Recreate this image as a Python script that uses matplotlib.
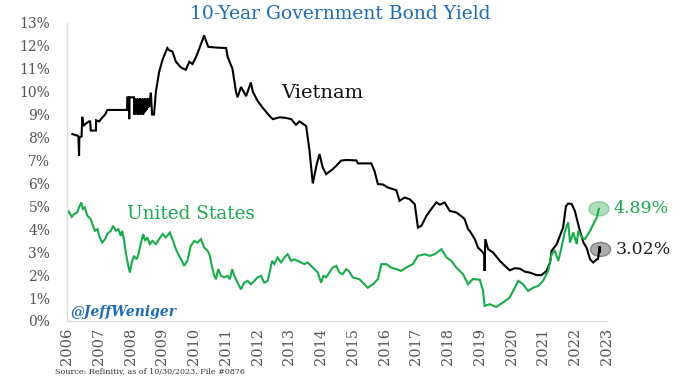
import matplotlib
matplotlib.use("Agg")
import matplotlib.pyplot as plt
from matplotlib.patches import Ellipse

# ---- data (axis-year units, as drawn on the chart) ----
vn_x = [2006.17, 2006.32, 2006.36, 2006.38, 2006.39, 2006.46, 2006.48, 2006.52, 2006.59, 2006.69,
        2006.73, 2006.75, 2006.91, 2006.92, 2007.01, 2007.10, 2007.20, 2007.27, 2007.89, 2007.90,
        2007.95, 2007.96, 2007.97, 2008.11, 2008.12, 2008.14, 2008.16, 2008.18, 2008.20, 2008.22,
        2008.24, 2008.26, 2008.28, 2008.30, 2008.32, 2008.34, 2008.36, 2008.38, 2008.40, 2008.42,
        2008.44, 2008.46, 2008.48, 2008.50, 2008.52, 2008.54, 2008.56, 2008.58, 2008.60, 2008.62,
        2008.64, 2008.68, 2008.74, 2008.80, 2008.90, 2009.01, 2009.16, 2009.22, 2009.32,
        2009.43, 2009.59, 2009.74, 2009.85, 2009.95, 2010.06, 2010.16, 2010.32, 2010.38, 2010.45,
        2010.70, 2011.01, 2011.06, 2011.21, 2011.32, 2011.37, 2011.48, 2011.64, 2011.79, 2011.85,
        2012.00, 2012.16, 2012.37, 2012.48, 2012.70, 2012.90, 2013.06, 2013.21, 2013.32, 2013.53,
        2013.58, 2013.63, 2013.74, 2013.85, 2013.95, 2014.05, 2014.16, 2014.37, 2014.48, 2014.63,
        2014.79, 2015.11, 2015.16, 2015.58, 2015.68, 2015.79, 2015.95, 2016.10, 2016.37, 2016.47,
        2016.63, 2016.79, 2016.95, 2017.05, 2017.16, 2017.32, 2017.47, 2017.63, 2017.74, 2017.89,
        2018.05, 2018.26, 2018.47, 2018.52, 2018.63, 2018.68, 2018.84, 2018.94, 2019.05, 2019.14,
        2019.15, 2019.17, 2019.26, 2019.42, 2019.63, 2019.79, 2019.94, 2020.10, 2020.26, 2020.42,
        2020.57, 2020.79, 2020.94, 2021.10, 2021.21, 2021.26, 2021.42, 2021.52, 2021.62, 2021.71,
        2021.78, 2021.89, 2021.99, 2022.07, 2022.15, 2022.26, 2022.36, 2022.47, 2022.57, 2022.68,
        2022.72, 2022.77, 2022.78]
vn_y = [8.15, 8.08, 8.05, 7.20, 8.00, 8.05, 8.90, 8.50, 8.60, 8.70,
        8.70, 8.30, 8.30, 8.75, 8.70, 8.85, 9.00, 9.20, 9.20, 9.75,
        9.75, 8.80, 9.75, 9.75, 9.00, 9.70, 9.00, 9.65, 9.05, 9.70,
        9.00, 9.60, 9.05, 9.70, 9.00, 9.65, 9.10, 9.70, 9.00, 9.65,
        9.10, 9.70, 9.15, 9.65, 9.20, 9.70, 9.30, 9.70, 9.35, 9.70,
        9.95, 9.00, 9.00, 10.00, 10.85, 11.40, 11.90, 11.80, 11.75,
        11.30, 11.05, 10.95, 11.30, 11.20, 11.50, 11.85, 12.45, 12.20, 11.95,
        11.92, 11.90, 11.50, 11.00, 10.00, 9.75, 10.20, 9.80, 10.40, 10.00,
        9.60, 9.30, 8.95, 8.80, 8.88, 8.85, 8.80, 8.55, 8.70, 8.50,
        8.00, 7.50, 6.00, 6.75, 7.28, 6.70, 6.40, 6.62, 6.77, 6.99,
        7.02, 7.00, 6.87, 6.87, 6.55, 5.97, 5.95, 5.82, 5.70, 5.24,
        5.38, 5.31, 5.09, 4.07, 4.15, 4.59, 4.88, 5.17, 5.07, 5.17,
        4.80, 4.73, 4.51, 4.44, 4.00, 3.93, 3.57, 3.20, 3.06, 2.90,
        2.18, 3.57, 3.13, 2.98, 2.62, 2.40, 2.21, 2.30, 2.28, 2.15,
        2.11, 2.00, 2.00, 2.18, 2.55, 3.06, 3.35, 3.71, 4.07, 5.00,
        5.12, 5.10, 4.80, 4.37, 3.93, 3.42, 3.20, 2.69, 2.55, 2.69,
        2.70, 3.25, 3.02]

us_x = [2006.00, 2006.06, 2006.15, 2006.22, 2006.32, 2006.38, 2006.45, 2006.50, 2006.56, 2006.64,
        2006.75, 2006.80, 2006.88, 2006.96, 2007.03, 2007.11, 2007.20, 2007.27, 2007.38, 2007.45,
        2007.54, 2007.62, 2007.69, 2007.74, 2007.80, 2007.85, 2007.92, 2007.98, 2008.04, 2008.11,
        2008.19, 2008.25, 2008.32, 2008.40, 2008.46, 2008.53, 2008.61, 2008.69, 2008.80, 2008.90,
        2009.01, 2009.11, 2009.24, 2009.32, 2009.43, 2009.53, 2009.62, 2009.69, 2009.79, 2009.90,
        2010.01, 2010.11, 2010.22, 2010.32, 2010.43, 2010.50, 2010.56, 2010.64, 2010.69, 2010.76,
        2010.85, 2010.95, 2011.06, 2011.13, 2011.20, 2011.27, 2011.37, 2011.48, 2011.58, 2011.69,
        2011.79, 2011.90, 2012.00, 2012.11, 2012.21, 2012.32, 2012.39, 2012.46, 2012.53, 2012.63,
        2012.74, 2012.85, 2012.95, 2013.06, 2013.16, 2013.26, 2013.37, 2013.48, 2013.58, 2013.69,
        2013.79, 2013.90, 2014.00, 2014.08, 2014.16, 2014.26, 2014.37, 2014.48, 2014.58, 2014.68,
        2014.79, 2014.87, 2015.00, 2015.21, 2015.47, 2015.63,
        2015.79, 2015.90, 2016.05, 2016.21, 2016.37, 2016.52, 2016.68, 2016.89, 2017.05, 2017.26,
        2017.42, 2017.58, 2017.79, 2017.95, 2018.10, 2018.26, 2018.47, 2018.63, 2018.78, 2019.00,
        2019.10, 2019.15, 2019.31, 2019.52, 2019.72, 2019.94, 2020.10, 2020.21, 2020.36, 2020.52,
        2020.68, 2020.84, 2020.99, 2021.15, 2021.26, 2021.36, 2021.47, 2021.57, 2021.68, 2021.78,
        2021.84, 2021.94, 2022.05, 2022.10, 2022.21, 2022.31, 2022.47, 2022.57, 2022.68, 2022.75]
us_y = [4.66, 4.77, 4.54, 4.66, 4.73, 4.95, 5.17, 4.88, 4.95, 4.59,
        4.44, 4.22, 3.93, 4.00, 3.64, 3.42, 3.57, 3.79, 3.93, 4.15,
        3.93, 4.00, 3.71, 3.93, 3.49, 2.98, 2.48, 2.11, 2.55, 2.84,
        2.69, 2.91, 3.35, 3.79, 3.49, 3.64, 3.35, 3.49, 3.35, 3.57,
        3.79, 3.64, 3.86, 3.57, 3.13, 2.84, 2.62, 2.40, 2.62, 3.28,
        3.49, 3.42, 3.57, 3.20, 3.06, 2.84, 2.40, 1.97, 1.82, 2.26,
        1.97, 1.90, 1.97, 1.82, 2.26, 1.97, 1.67, 1.38, 1.67, 1.75,
        1.60, 1.75, 1.90, 1.97, 1.67, 1.75, 2.18, 2.62, 2.48, 2.77,
        2.55, 2.77, 2.91, 2.62, 2.69, 2.62, 2.55, 2.48, 2.55, 2.40,
        2.26, 2.11, 1.67, 1.97, 1.90, 2.11, 2.33, 2.40, 2.11, 2.04,
        2.26, 2.18, 1.90, 1.82, 1.45, 1.60,
        1.82, 2.48, 2.48, 2.33, 2.26, 2.18, 2.33, 2.48, 2.84, 2.91,
        2.84, 2.91, 3.13, 2.77, 2.62, 2.33, 2.04, 1.60, 1.83, 1.80,
        1.31, 0.66, 0.73, 0.61, 0.80, 1.02, 1.45, 1.75, 1.60, 1.31,
        1.45, 1.53, 1.75, 2.18, 2.91, 3.06, 2.62, 3.20, 3.93, 4.30,
        3.42, 3.86, 3.35, 3.93, 3.64, 3.57, 3.93, 4.22, 4.51, 4.89]

x_ticks = list(range(2006, 2024))
y_ticks = list(range(0, 14))
us_last_label = "4.89%"
vn_last_label = "3.02%"

GREEN = "#1aab4b"
BLUE = "#1f6cb5"
SERIF = ["DejaVu Serif"]

fig = plt.figure(figsize=(6.8, 3.83), dpi=100)
ax = fig.add_axes([0.0985, 0.1619, 0.794, 0.7786])

ax.plot(vn_x, vn_y, color="black", lw=1.5, solid_joinstyle="miter")
ax.plot(us_x, us_y, color=GREEN, lw=1.5, solid_joinstyle="miter")

ax.set_xlim(2006, 2023)
ax.set_ylim(0, 13)
ax.set_xticks(x_ticks)
ax.set_xticklabels([str(t) for t in x_ticks], rotation=90, fontsize=10.5,
                   family=SERIF, color="#555555")
ax.set_yticks(y_ticks)
ax.set_yticklabels([f"{t}%" for t in y_ticks], fontsize=10, family=SERIF, color="#555555")
ax.tick_params(axis="both", length=0)
ax.tick_params(axis="y", pad=12)
ax.tick_params(axis="x", pad=5)
for s in ["top", "right"]:
    ax.spines[s].set_visible(False)
for s in ["left", "bottom"]:
    ax.spines[s].set_color("#dddddd")
    ax.spines[s].set_linewidth(1)

# end-point markers
ex, ey = us_x[-1], us_y[-1]
ax.add_patch(Ellipse((ex, ey), 0.63, 0.61, facecolor="#a8dcb4", edgecolor="#86c998",
                     lw=1, alpha=0.9, clip_on=False, zorder=1))
vx, vy = vn_x[-1], vn_y[-1]
ax.add_patch(Ellipse((vx + 0.02, vy + 0.1), 0.63, 0.61, facecolor="#a3a3a3", edgecolor="#7a7a7a",
                     lw=1, alpha=0.9, clip_on=False, zorder=1))
ax.annotate(us_last_label, xy=(ex, ey), xytext=(15, 0), textcoords="offset pixels",
            color=GREEN, fontsize=12.5, family=SERIF, va="center", ha="left",
            annotation_clip=False)
ax.annotate(vn_last_label, xy=(vx, vy + 0.1), xytext=(16, 0), textcoords="offset pixels",
            color="#222222", fontsize=12.5, family=SERIF, va="center", ha="left",
            annotation_clip=False)

ax.text(2012.75, 9.96, "Vietnam", fontsize=14, family=SERIF, color="#111111",
        va="center", ha="left")
ax.text(2007.88, 4.66, "United States", fontsize=13.3, family=SERIF, color=GREEN,
        va="center", ha="left")

fig.text(0.5, 0.963, "10-Year Government Bond Yield", fontsize=13.5, family=SERIF,
         color=BLUE, ha="center", va="center")
fig.text(70 / 680, 1 - 312 / 383, "@JeffWeniger", fontsize=10, family=SERIF,
         weight="bold", style="italic", color=BLUE, ha="left", va="center")
fig.text(55 / 680, 1 - 372 / 383, "Source: Refinitiv, as of 10/30/2023. File #0876",
         fontsize=5.8, family=SERIF, color="#333333", ha="left", va="center")

fig.savefig("out.png", dpi=100)
